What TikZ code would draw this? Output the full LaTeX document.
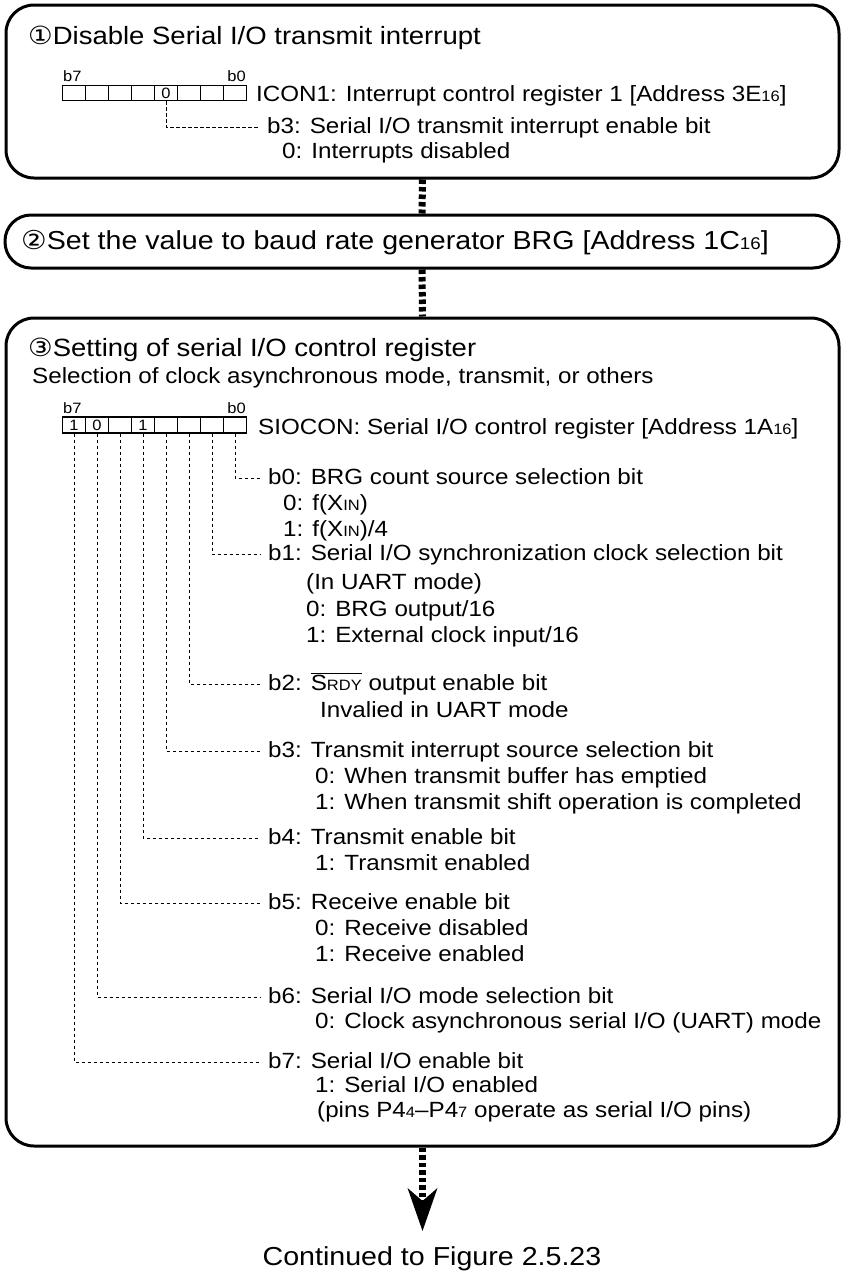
\documentclass[tikz,border=0pt]{standalone}
\usepackage{fontspec}
\setmainfont[FakeStretch=1.1]{Liberation Sans}
\newfontfamily\circfont[FakeStretch=1.1]{DejaVu Sans}
\usetikzlibrary{arrows.meta}
\newcommand\bodyf{\fontsize{22}{26}\selectfont}
\newcommand\titlef{\fontsize{25}{30}\selectfont}
\newcommand\smlf{\fontsize{15}{15}\selectfont}

\begin{document}
\begin{tikzpicture}[x=1pt,y=-1pt,
  box/.style={draw,line width=3pt,rounded corners=28pt,inner sep=0pt},
  cell/.style={draw,line width=1.1pt,minimum width=23pt,minimum height=15pt,inner sep=0pt,font=\fontsize{15}{15}\selectfont},
  bitno/.style={inner sep=0pt,font=\fontsize{15}{15}\selectfont},
  txt/.style={anchor=base west,inner sep=0pt,font=\bodyf},
  head/.style={anchor=base west,inner xsep=8pt,inner ysep=0pt,text height=12pt,text depth=0pt,font=\bodyf},
  lead/.style={line width=0.8pt,dash pattern=on 3.5pt off 2.5pt},
  flow/.style={line width=7pt,dash pattern=on 4.5pt off 3pt}]
  \useasboundingbox (0,0) rectangle (842,1275);

  \node[box,minimum width=833pt,minimum height=173pt] (step1) at (422.5,91.5) {};
  \node[box,rounded corners=26pt,minimum width=834pt,minimum height=53pt] (step2) at (422,241.5) {};
  \node[box,minimum width=833pt,minimum height=828pt] (step3) at (422.5,732) {};
  \draw[flow] (step1.south) -- (step2.north);
  \draw[flow] (step2.south) -- (step3.north);

  \node[anchor=base west,inner sep=0pt,font=\titlef] (t1) at (28,44) {{\circfont ①}Disable Serial I/O transmit interrupt};
  \node[bitno,anchor=base west] (ia7l) at (63,81) {b7};
  \node[bitno,anchor=base east] (ia0l) at (246,81) {b0};
  \foreach \b/\v in {7/,6/,5/,4/,3/0,2/,1/,0/}
    \node[cell] (ia\b) at ({74+23*(7-\b)},93) {\v};
  \node[txt] (icon) at (256,101) {ICON1: Interrupt control register 1 [Address 3E{\smlf 16}]};
  \node[head] (ih3) at (259,133) {b3: Serial I/O transmit interrupt enable bit};
  \node[txt] (is3) at (282,158) {0: Interrupts disabled};
  \draw[lead] (ia3.south) |- (ih3.west);

  \node[anchor=base west,inner sep=0pt,font=\fontsize{26}{30}\selectfont] (t2) at (21,249) {{\circfont ②}Set the value to baud rate generator BRG [Address 1C{\fontsize{17}{17}\selectfont 16}]};

  \node[anchor=base west,inner sep=0pt,font=\titlef] (t3) at (28,356) {{\circfont ③}Setting of serial I/O control register};
  \node[txt] (sel) at (32,383) {Selection of clock asynchronous mode, transmit, or others};
  \node[bitno,anchor=base west] (sc7l) at (63,413) {b7};
  \node[bitno,anchor=base east] (sc0l) at (246,413) {b0};
  \foreach \b/\v in {7/1,6/0,5/,4/1,3/,2/,1/,0/}
    \node[cell,minimum height=16pt] (sc\b) at ({74+23*(7-\b)},425) {\v};
  \node[txt] (siocon) at (258,434) {SIOCON: Serial I/O control register [Address 1A{\smlf 16}]};

  \node[head] (sh0) at (260,484) {b0: BRG count source selection bit};
  \node[txt] (s0a) at (283,510) {0: f(X{\smlf IN})};
  \node[txt] (s0b) at (283,536) {1: f(X{\smlf IN})/4};
  \node[head] (sh1) at (260,560) {b1: Serial I/O synchronization clock selection bit};
  \node[txt] (s1a) at (306,589) {(In UART mode)};
  \node[txt] (s1b) at (306,616) {0: BRG output/16};
  \node[txt] (s1c) at (306,642) {1: External clock input/16};
  \node[head] (sh2) at (260,690) {b2: $\overline{\mbox{S{\smlf RDY}}}$ output enable bit};
  \node[txt] (s2a) at (320,717) {Invalied in UART mode};
  \node[head] (sh3) at (260,757) {b3: Transmit interrupt source selection bit};
  \node[txt] (s3a) at (315,783) {0: When transmit buffer has emptied};
  \node[txt] (s3b) at (315,809) {1: When transmit shift operation is completed};
  \node[head] (sh4) at (260,844) {b4: Transmit enable bit};
  \node[txt] (s4a) at (315,870) {1: Transmit enabled};
  \node[head] (sh5) at (260,909) {b5: Receive enable bit};
  \node[txt] (s5a) at (315,935) {0: Receive disabled};
  \node[txt] (s5b) at (315,961) {1: Receive enabled};
  \node[head] (sh6) at (260,1003) {b6: Serial I/O mode selection bit};
  \node[txt] (s6a) at (315,1028) {0: Clock asynchronous serial I/O (UART) mode};
  \node[head] (sh7) at (260,1068) {b7: Serial I/O enable bit};
  \node[txt] (s7a) at (315,1092) {1: Serial I/O enabled};
  \node[txt] (s7b) at (317,1117) {(pins P4{\smlf 4}--P4{\smlf 7} operate as serial I/O pins)};
  \foreach \b in {0,...,7}
    \draw[lead] (sc\b.south) |- (sh\b.west);

  \node[anchor=base,inner sep=0pt,font=\fontsize{26}{30}\selectfont] (cont) at (432,1265) {Continued to Figure 2.5.23};
  \draw[flow,-{Stealth[length=43pt,width=30pt,inset=13pt,line width=0pt]}] (step3.south) -- (step3.south |- cont.north) [shorten >=15pt];
\end{tikzpicture}
\end{document}
